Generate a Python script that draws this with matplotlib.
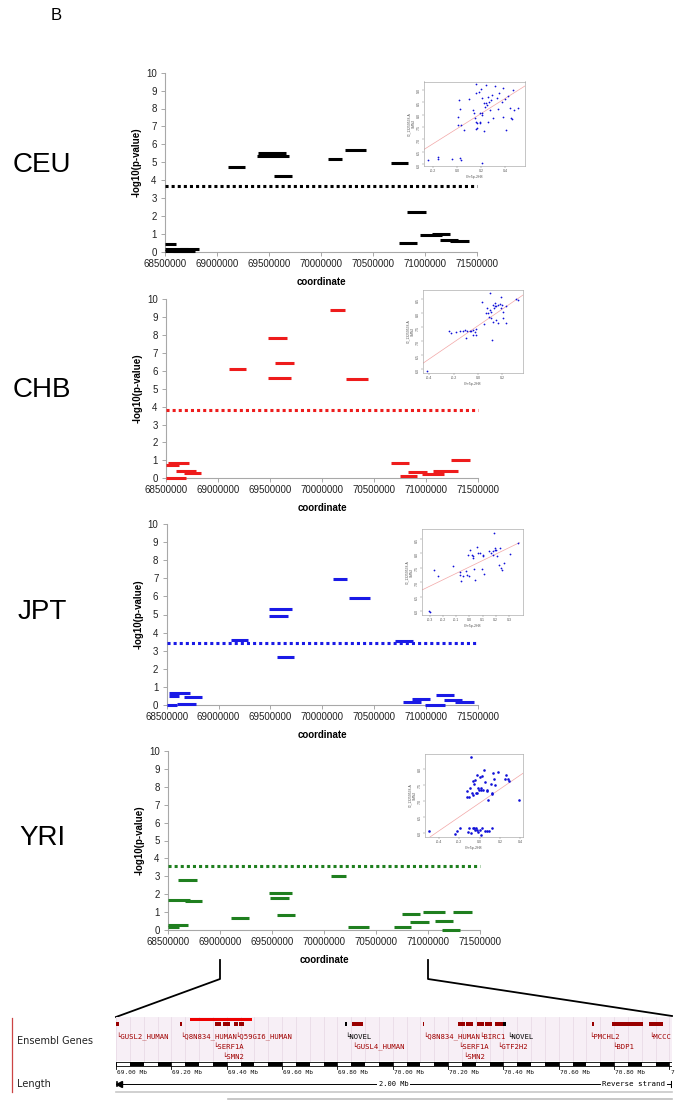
import numpy as np
import matplotlib.pyplot as plt
from matplotlib.patches import Rectangle

plt.rcParams["font.family"] = ["Liberation Sans", "DejaVu Sans"]

W, H = 684, 1102

# --- association results: one segment per window (start, end, -log10 p) ---
ceu_start = [68500000, 68500000, 68500000, 68640000, 68580000, 69110000, 69390000, 69380000, 69550000,
             70070000, 70230000, 70670000, 70830000, 70750000, 70950000, 71070000, 71140000, 71240000]
ceu_end = [68606000, 68725000, 68780000, 68830000, 68790000, 69270000, 69660000, 69690000, 69720000,
           70200000, 70430000, 70840000, 71010000, 70920000, 71160000, 71240000, 71320000, 71420000]
ceu_val = [0.41, 0.15, 0.05, 0.13, 0.04, 4.73, 5.51, 5.36, 4.21, 5.18, 5.70, 4.93, 2.22, 0.48, 0.91, 0.99, 0.63, 0.60]

chb_start = [68500000, 68520000, 68600000, 68670000, 68500000, 69110000, 69480000, 69550000, 69480000,
             70080000, 70230000, 70660000, 70750000, 70830000, 70960000, 71070000, 71240000]
chb_end = [68626000, 68720000, 68790000, 68840000, 68690000, 69270000, 69660000, 69730000, 69700000,
           70220000, 70440000, 70840000, 70910000, 71010000, 71170000, 71310000, 71420000]
chb_val = [0.74, 0.84, 0.41, 0.28, 0.0, 6.10, 7.83, 6.45, 5.58, 9.37, 5.54, 0.84, 0.13, 0.35, 0.22, 0.41, 1.04]

jpt_start = [68520000, 68520000, 68600000, 68670000, 68500000, 69120000, 69490000, 69490000, 69560000,
             70100000, 70260000, 70700000, 70780000, 70860000, 70990000, 71100000, 71170000, 71280000]
jpt_end = [68720000, 68620000, 68780000, 68840000, 68600000, 69280000, 69710000, 69670000, 69730000,
           70240000, 70460000, 70870000, 70950000, 71040000, 71180000, 71270000, 71350000, 71460000]
jpt_val = [0.66, 0.52, 0.05, 0.46, 0.02, 3.59, 5.28, 4.94, 2.67, 6.96, 5.89, 3.55, 0.17, 0.33, 0.02, 0.55, 0.28, 0.18]

yri_start = [68500000, 68500000, 68500000, 68660000, 68600000, 69110000, 69470000, 69480000, 69550000,
             70070000, 70230000, 70670000, 70750000, 70830000, 70950000, 71070000, 71130000, 71240000]
yri_end = [68610000, 68690000, 68710000, 68830000, 68780000, 69280000, 69690000, 69660000, 69720000,
           70210000, 70430000, 70840000, 70920000, 71010000, 71160000, 71240000, 71310000, 71420000]
yri_val = [0.19, 0.28, 1.68, 1.62, 2.81, 0.67, 2.05, 1.81, 0.82, 3.04, 0.19, 0.15, 0.91, 0.45, 1.00, 0.52, 0.02, 1.00]

thresholds = [3.69, 3.79, 3.43, 3.58]
pops = ["CEU", "CHB", "JPT", "YRI"]
pop_colors = ["black", "#ee1c1c", "#1a1ae6", "#1f7f1f"]
x_ticks = [68500000, 69000000, 69500000, 70000000, 70500000, 71000000, 71500000]

# --- inset scatter plots (expression vs copy number) ---
ceu_ix = [-0.242, -0.158, -0.158, -0.039, 0.022, 0.036, 0.208, 0.014, 0.022, 0.008, 0.011, 0.036, 0.056,
          0.097, 0.133, 0.142, 0.147, 0.161, 0.153, 0.167, 0.189, 0.194, 0.203, 0.206, 0.156, 0.161, 0.181,
          0.197, 0.208, 0.222, 0.231, 0.236, 0.244, 0.250, 0.258, 0.267, 0.281, 0.292, 0.300, 0.314, 0.328,
          0.342, 0.350, 0.369, 0.378, 0.383, 0.397, 0.406, 0.425, 0.439, 0.447, 0.458, 0.467, 0.475, 0.225,
          0.189, 0.169, 0.258, 0.272, 0.510]
ceu_iy = [6.16, 6.30, 6.20, 6.19, 6.26, 6.16, 6.05, 8.59, 8.22, 7.89, 7.58, 7.58, 7.38,
          8.64, 8.19, 8.05, 7.85, 7.72, 7.41, 7.45, 7.65, 7.72, 7.99, 8.05, 9.24, 8.86, 8.93,
          9.04, 8.66, 8.49, 8.32, 8.46, 9.20, 8.39, 8.70, 8.50, 8.59, 8.80, 7.85, 9.16, 8.66,
          8.22, 8.86, 8.53, 7.89, 9.09, 8.62, 7.38, 8.76, 8.26, 7.85, 7.81, 9.00, 8.19, 7.35,
          8.05, 7.65, 7.72, 8.19, 8.26]
ceu_fit_x = [-0.275, 0.564]
ceu_fit_y = [6.59, 9.16]

chb_ix = [-0.416, -0.238, -0.219, -0.184, -0.151, -0.123, -0.110, -0.090, -0.068, -0.055, -0.041, -0.027,
          -0.041, -0.019, -0.014, -0.096, 0.036, 0.096, 0.047, 0.082, 0.096, 0.110, 0.123, 0.137, 0.137,
          0.151, 0.164, 0.178, 0.192, 0.192, 0.205, 0.200, 0.151, 0.164, 0.123, 0.205, 0.233, 0.233, 0.118,
          0.090, 0.104, 0.315, 0.329, 0.129, 0.074, 0.063]
chb_iy = [5.92, 7.38, 7.29, 7.33, 7.35, 7.35, 7.40, 7.38, 7.35, 7.35, 7.40, 7.31,
          7.23, 7.23, 7.43, 7.11, 8.39, 8.71, 7.61, 8.00, 8.12, 8.06, 8.30, 8.24, 8.36,
          8.24, 8.30, 8.33, 8.57, 8.18, 8.06, 8.30, 7.76, 7.64, 7.70, 7.82, 7.64, 8.24, 7.05,
          7.88, 7.82, 8.51, 8.48, 8.18, 8.18, 8.00]
chb_fit_x = [-0.452, 0.370]
chb_fit_y = [6.21, 8.65]

jpt_ix = [-0.302, -0.300, -0.265, -0.240, -0.125, -0.070, -0.068, -0.063, -0.050, -0.025, -0.020, 0.000,
          0.005, 0.025, 0.030, 0.037, 0.042, 0.060, 0.067, 0.080, 0.092, 0.100, 0.105, 0.110, 0.150,
          0.167, 0.175, 0.180, 0.185, 0.192, 0.197, 0.205, 0.212, 0.225, 0.235, 0.242, 0.250, 0.260,
          0.310, 0.367, -0.007, 0.017]
jpt_iy = [6.01, 5.98, 7.43, 7.20, 7.55, 7.34, 7.26, 7.05, 7.20, 7.40, 7.26, 7.22,
          8.13, 7.90, 7.84, 7.45, 7.06, 8.24, 8.03, 8.03, 7.45, 7.90, 7.95, 7.29, 8.07,
          8.01, 8.07, 7.95, 8.71, 8.13, 8.19, 8.13, 7.92, 7.60, 8.19, 7.49, 7.41, 7.66,
          7.99, 8.36, 7.95, 7.95]
jpt_fit_x = [-0.357, 0.380]
jpt_fit_y = [6.73, 8.38]

yri_ix = [-0.497, -0.242, -0.223, -0.190, -0.119, -0.103, -0.087, -0.071, -0.055, -0.045, -0.032, -0.016,
          0.000, 0.010, 0.026, 0.048, 0.068, 0.090, 0.116, -0.023, -0.087, -0.126, -0.094, -0.071,
          -0.077, -0.065, -0.055, -0.045, -0.039, -0.029, -0.023, -0.016, -0.006, 0.000, 0.010, 0.016,
          0.026, 0.035, 0.042, 0.048, 0.068, 0.074, 0.081, 0.106, 0.116, 0.123, 0.132, 0.139, 0.155,
          0.177, 0.252, 0.258, 0.277, 0.290, 0.387, -0.126, -0.103]
yri_iy = [6.05, 5.98, 6.06, 6.17, 6.03, 6.14, 6.00, 6.17, 6.14, 6.08, 6.17, 6.03,
          6.10, 5.95, 6.14, 6.06, 6.06, 6.06, 6.17, 6.08, 8.37, 7.31, 7.39, 7.62,
          7.23, 7.18, 7.54, 7.65, 7.23, 7.82, 7.23, 7.39, 7.33, 7.73, 7.33, 7.39,
          7.77, 7.35, 7.96, 7.59, 7.35, 7.31, 7.04, 7.52, 7.23, 7.21, 7.87, 7.67, 7.49,
          7.91, 7.67, 7.80, 7.67, 7.62, 7.04, 7.12, 7.12]
yri_fit_x = [-0.490, 0.426]
yri_fit_y = [5.875, 7.86]

inset_xlims = [(-0.275, 0.564), (-0.452, 0.370), (-0.357, 0.405), (-0.539, 0.426)]
inset_ylims = [(5.92, 9.34), (5.86, 8.83), (5.86, 8.85), (5.875, 8.46)]
inset_xticks = [[-0.2, 0.0, 0.2, 0.4], [-0.4, -0.2, 0.0, 0.2],
                [-0.3, -0.2, -0.1, 0.0, 0.1, 0.2, 0.3], [-0.4, -0.2, 0.0, 0.2, 0.4]]
inset_yticks = [[6.0, 6.5, 7.0, 7.5, 8.0, 8.5, 9.0], [6.0, 6.5, 7.0, 7.5, 8.0, 8.5],
                [6.0, 6.5, 7.0, 7.5, 8.0, 8.5], [6.0, 6.5, 7.0, 7.5, 8.0]]

# --- Ensembl gene track (Mb) ---
block_start = [69.000, 69.231, 69.358, 69.387, 69.426, 69.445, 69.828, 69.853, 70.110, 70.236, 70.265,
               70.305, 70.334, 70.370, 70.399, 70.720, 70.793, 70.926]
block_end = [69.011, 69.239, 69.379, 69.412, 69.441, 69.463, 69.835, 69.893, 70.113, 70.261, 70.290,
             70.330, 70.359, 70.399, 70.410, 70.727, 70.905, 70.977]
block_color = ["#990000"] * 6 + ["black"] + ["#990000"] * 7 + ["black"] + ["#990000"] * 3
highlight_start, highlight_end = 69.267, 69.492

gene_names = ["GUSL2_HUMAN", "Q8N834_HUMAN", "Q59GI6_HUMAN", "NOVEL", "Q8N834_HUMAN", "BIRC1", "NOVEL",
              "PMCHL2", "MCCC1", "SERF1A", "GUSL4_HUMAN", "SERF1A", "GTF2H2", "BDP1", "SMN2", "SMN2"]
gene_pos = [69.000, 69.231, 69.430, 69.828, 70.110, 70.314, 70.414, 70.709, 70.926,
            69.351, 69.853, 70.236, 70.377, 70.793, 69.383, 70.254]
gene_row = [0, 0, 0, 0, 0, 0, 0, 0, 0, 1, 1, 1, 1, 1, 2, 2]
gene_color = ["#a00000"] * 3 + ["black", "#a00000", "#a00000", "black"] + ["#a00000"] * 9
scale_ticks = [69.0, 69.2, 69.4, 69.6, 69.8, 70.0, 70.2, 70.4, 70.6, 70.8, 71.0]

fig = plt.figure(figsize=(W / 100, H / 100), dpi=100)


def px_axes(l, t, r, b):
    return fig.add_axes([l / W, 1 - b / H, (r - l) / W, (b - t) / H])


# overlay in pixel units for the callout lines and the Ensembl side labels
ov = px_axes(0, 0, W, H)
ov.set_xlim(0, W)
ov.set_ylim(H, 0)
ov.axis("off")

fig.text(56 / W, 1 - 16 / H, "B", fontsize=12, ha="center", va="center")

main_boxes = [(165, 72.7, 477, 251.7), (166, 299, 478, 478.3), (166.7, 524, 478, 705), (168, 751, 480, 930)]
inset_boxes = [(424, 81.5, 525, 166), (423, 290, 523, 373), (422, 529, 523, 615), (425, 754, 523, 837)]
pop_label_y = [165, 390, 612, 838]

segments = [(ceu_start, ceu_end, ceu_val), (chb_start, chb_end, chb_val),
            (jpt_start, jpt_end, jpt_val), (yri_start, yri_end, yri_val)]
insets = [(ceu_ix, ceu_iy, ceu_fit_x, ceu_fit_y), (chb_ix, chb_iy, chb_fit_x, chb_fit_y),
          (jpt_ix, jpt_iy, jpt_fit_x, jpt_fit_y), (yri_ix, yri_iy, yri_fit_x, yri_fit_y)]

for i, pop in enumerate(pops):
    l, t, r, b = main_boxes[i]
    ax = px_axes(l, t, r, b)
    st, en, val = segments[i]
    ax.hlines(val, st, en, colors=pop_colors[i], lw=2.2, clip_on=False, capstyle="butt", zorder=3)
    ax.plot([x_ticks[0], x_ticks[-1]], [thresholds[i]] * 2, ls=(0, (1, 1)), lw=2.2,
            color=pop_colors[i], dash_capstyle="butt", clip_on=False, zorder=3)
    ax.set_xlim(x_ticks[0], x_ticks[-1])
    ax.set_ylim(0, 10)
    ax.set_xticks(x_ticks)
    ax.set_xticklabels([str(v) for v in x_ticks])
    ax.set_yticks(range(11))
    for s in ["top", "right"]:
        ax.spines[s].set_visible(False)
    for s in ["left", "bottom"]:
        ax.spines[s].set_color("#a8a8a8")
        ax.spines[s].set_linewidth(0.8)
    ax.tick_params(labelsize=7, length=3, width=0.7, color="#a8a8a8", labelcolor="#222222", pad=2)
    ax.tick_params(axis="y", pad=3)
    hpx, wpx = b - t, r - l
    ax.text(0.5, -30 / hpx, "coordinate", transform=ax.transAxes, ha="center", va="center",
            fontsize=7, weight="bold")
    ax.text(-28 / wpx, 0.5, "-log10(p-value)", transform=ax.transAxes, ha="center", va="center",
            rotation=90, fontsize=7, weight="bold")
    fig.text(42 / W, 1 - pop_label_y[i] / H, pop, fontsize=20, ha="center", va="center")

    # inset scatter
    ia = px_axes(*inset_boxes[i])
    ix, iy, fx, fy = insets[i]
    ia.plot(fx, fy, color="#f2a6a6", lw=0.5)
    ia.scatter(ix, iy, s=3.5 if pop == "YRI" else 1.6, color="#1010d8", linewidths=0, zorder=3)
    ia.set_xlim(*inset_xlims[i])
    ia.set_ylim(*inset_ylims[i])
    ia.set_xticks(inset_xticks[i])
    ia.set_xticklabels([f"{v:.1f}" for v in inset_xticks[i]])
    ia.set_yticks(inset_yticks[i])
    ia.set_yticklabels([f"{v:.1f}" for v in inset_yticks[i]])
    ia.tick_params(labelsize=2.6, length=1.2, width=0.3, pad=1, color="#777777", labelcolor="#555555")
    ia.tick_params(axis="y", labelrotation=90)
    for s in ia.spines.values():
        s.set_color("#9a9a9a")
        s.set_linewidth(0.4)
    ia.set_xlabel("Chr5p-2H8", fontsize=2.6, labelpad=1.5, color="#555555")
    ia.set_ylabel("GI_13259538-A\nSMN2", fontsize=2.4, labelpad=1, color="#555555")

# callout lines from the YRI axis to the gene track
zoom_lo, zoom_hi = 69000000, 71000000
yl, yt, yr, yb = main_boxes[3]
track_l, track_r = 116, 672
x_lo = yl + (zoom_lo - x_ticks[0]) / (x_ticks[-1] - x_ticks[0]) * (yr - yl)
x_hi = yl + (zoom_hi - x_ticks[0]) / (x_ticks[-1] - x_ticks[0]) * (yr - yl)
ov.plot([x_lo, x_lo, track_l], [960, 979, 1017], color="black", lw=1.3)
ov.plot([x_hi, x_hi, track_r], [960, 979, 1016], color="black", lw=1.3)

# Ensembl side labels
ov.plot([12, 12], [1018, 1092], color="#cc4444", lw=0.9)
ov.text(17, 1041, "Ensembl Genes", fontsize=7, family="DejaVu Sans", va="center", color="#222222")
ov.text(17, 1084, "Length", fontsize=7, family="DejaVu Sans", va="center", color="#222222")
ov.plot([track_l, track_r], [1092, 1092], color="#c8c8c8", lw=1.2)
ov.plot([228, track_r], [1099, 1099], color="#bdbdbd", lw=1.2)

# gene track
px_per_mb = 276.7
tax = px_axes(track_l, 1010, track_r, 1096)
mb_lo = scale_ticks[0]
mb_hi = mb_lo + (track_r - track_l) / px_per_mb
tax.set_xlim(mb_lo, mb_hi)
tax.set_ylim(1096, 1010)
tax.axis("off")
tax.add_patch(Rectangle((mb_lo, 1017), mb_hi - mb_lo, 44, facecolor="#f7eff6", edgecolor="none", zorder=0))
for g in np.arange(mb_lo, mb_hi, 0.05):
    tax.plot([g, g], [1017, 1061], color="#e6d8e4", lw=0.5, zorder=1)

tax.add_patch(Rectangle((highlight_start, 1018), highlight_end - highlight_start, 2.5,
                        facecolor="#ee0000", edgecolor="none", zorder=3))
for s, e, c in zip(block_start, block_end, block_color):
    tax.add_patch(Rectangle((s, 1021.5), max(e - s, 0.004), 4, facecolor=c, edgecolor="none", zorder=3))

row_y = [1037, 1047, 1057]
char_px = 5.2 * 100 / 72 * 0.602
for name, pos, row, c in zip(gene_names, gene_pos, gene_row, gene_color):
    label = "\u2514" + name
    room = int((mb_hi - pos) * px_per_mb / char_px)
    tax.text(pos, row_y[row], label[:room], fontsize=5.2, family="DejaVu Sans Mono", color=c,
             va="center", ha="left", zorder=4)

# scale bar
tax.add_patch(Rectangle((mb_lo, 1062), mb_hi - mb_lo, 3.5, facecolor="white", edgecolor="black", lw=0.6, zorder=3))
for k, g in enumerate(np.arange(mb_lo, mb_hi, 0.05)):
    if k % 2 == 1:
        tax.add_patch(Rectangle((g, 1062), min(0.05, mb_hi - g), 3.5, facecolor="black", edgecolor="none", zorder=4))
scale_char_px = 4.4 * 100 / 72 * 0.602
for tk in scale_ticks:
    tax.plot([tk, tk], [1062, 1069], color="black", lw=0.6, zorder=4)
    label = f"{tk:.2f} Mb"
    room = max(1, int((mb_hi - tk) * px_per_mb / scale_char_px))
    tax.text(tk + 0.004, 1073, label[:room], fontsize=4.4, family="DejaVu Sans Mono", va="center",
             ha="left", color="#111111")

# length arrow
tax.plot([mb_lo + 0.01, mb_hi - 0.002], [1084, 1084], color="black", lw=0.7, zorder=3)
tax.plot([mb_lo + 0.012], [1084], marker="<", ms=4, color="black", zorder=4)
tax.plot([mb_lo + 0.004, mb_lo + 0.004], [1082, 1086], color="black", lw=1.2, zorder=4)
tax.plot([mb_hi - 0.002, mb_hi - 0.002], [1081, 1087], color="black", lw=0.8, zorder=4)
tax.text((mb_lo + mb_hi) / 2 - 0.001, 1084, "2.00 Mb", fontsize=5, family="DejaVu Sans Mono", ha="center",
         va="center", zorder=5, bbox=dict(facecolor="white", edgecolor="none", pad=1))
tax.text(mb_hi - 0.025, 1084, "Reverse strand", fontsize=5.4, family="DejaVu Sans Mono", ha="right",
         va="center", zorder=5, bbox=dict(facecolor="white", edgecolor="none", pad=1))

fig.savefig("out.png", dpi=100)
